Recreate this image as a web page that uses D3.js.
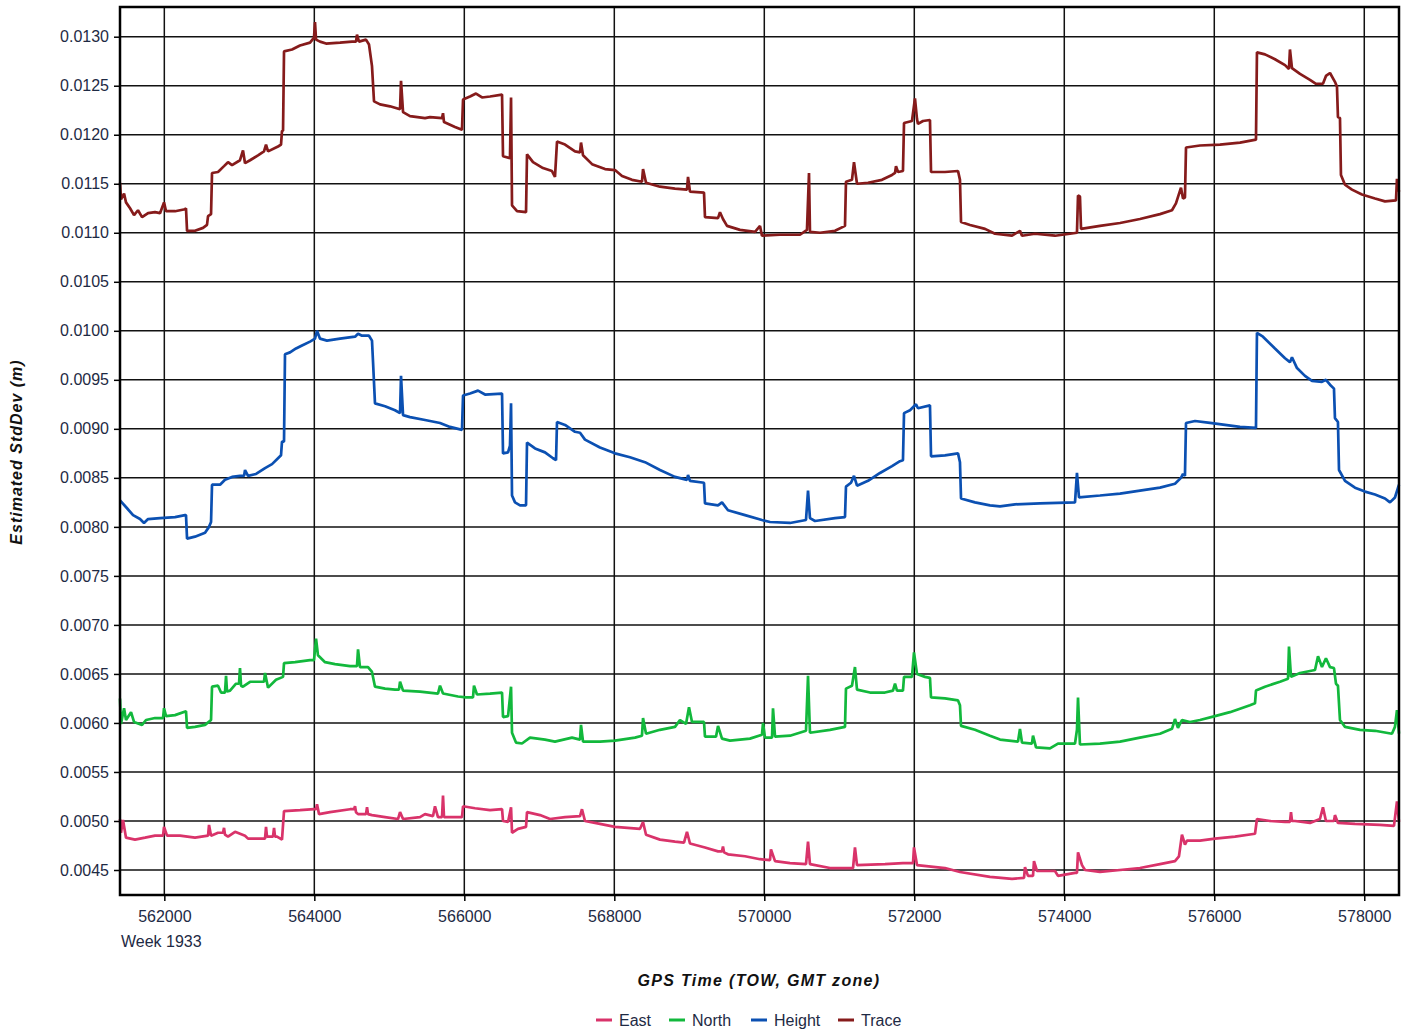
<!DOCTYPE html>
<html>
<head>
<meta charset="utf-8">
<script src="https://cdn.jsdelivr.net/npm/d3@7"></script>
<style>
  body { margin: 0; background: #fff; }
  svg { display: block; font-family: "Liberation Sans", Arial, sans-serif; }
</style>
</head>
<body>
<div class="canvas"></div>
<script>
// Series names and colours
const seriesNames = ['East', 'North', 'Height', 'Trace'];
const seriesColors = ['#d9336a', '#12b83c', '#0b50b2', '#861b1b'];

// Tick values
const xTicks = [562000, 564000, 566000, 568000, 570000, 572000, 574000, 576000, 578000];
const yTicks = [0.0045, 0.0050, 0.0055, 0.0060, 0.0065, 0.0070, 0.0075, 0.0080, 0.0085,
    0.0090, 0.0095, 0.0100, 0.0105, 0.0110, 0.0115, 0.0120, 0.0125, 0.0130];

// [GPS time (s), std dev (m)]
const eastData = [
    [561409,0.00502],[561422,0.00488],[561449,0.00501],[561489,0.00483],[561609,0.00481],[561743,0.00483],
    [561876,0.00485],[561983,0.00485],[561996,0.00494],[562036,0.00485],[562209,0.00485],[562409,0.00483],[562583,0.00485],
    [562596,0.00496],[562623,0.00485],[562716,0.00488],[562783,0.00488],[562796,0.00493],[562809,0.00486],[562849,0.00484],[562943,0.00489],
    [563076,0.00485],[563116,0.00482],[563303,0.00482],[563343,0.00482],[563356,0.00494],[563369,0.00484],[563409,0.00484],
    [563449,0.00484],[563463,0.00493],[563476,0.00484],
    [563503,0.00484],[563569,0.00481],[563596,0.00510],[563809,0.00511],[563996,0.00512],[564023,0.00512],[564036,0.00517],
    [564063,0.00507],[564209,0.00509],[564476,0.00512],[564529,0.00512],[564543,0.00515],[564556,0.00509],[564583,0.00507],
    [564689,0.00507],[564703,0.00514],[564716,0.00507],
    [564769,0.00506],[564943,0.00504],[565116,0.00502],[565143,0.00509],[565183,0.00502],[565409,0.00504],
    [565476,0.00507],[565583,0.00505],[565609,0.00515],[565649,0.00504],[565703,0.00504],[565716,0.00526],[565729,0.00504],[565756,0.00504],
    [565969,0.00504],[565983,0.00515],[566143,0.00513],[566343,0.00511],[566503,0.00512],[566516,0.00500],
    [566583,0.00499],[566623,0.00514],[566636,0.00488],[566716,0.00492],[566823,0.00494],[566836,0.00509],
    [567009,0.00506],[567143,0.00502],[567343,0.00504],[567543,0.00505],[567569,0.00512],[567609,0.00500],
    [567809,0.00497],[568009,0.00494],[568343,0.00492],[568383,0.00499],[568423,0.00486],[568609,0.00481],
    [568809,0.00479],[568929,0.00478],[568969,0.00489],[569009,0.00477],[569209,0.00473],[569383,0.00469],
    [569436,0.00469],[569449,0.00474],[569463,0.00468],[569516,0.00466],[569743,0.00464],[569943,0.00461],[570076,0.00460],[570089,0.00471],
    [570143,0.00459],[570343,0.00457],[570556,0.00456],[570583,0.00479],[570609,0.00456],[570876,0.00452],
    [571183,0.00452],[571209,0.00473],[571236,0.00455],[571609,0.00456],[571849,0.00457],[571983,0.00457],[571996,0.00473],
    [572036,0.00455],[572409,0.00452],[572609,0.00448],[573009,0.00443],[573303,0.00441],[573463,0.00442],[573476,0.00453],
    [573516,0.00444],[573583,0.00444],[573596,0.00459],[573636,0.00449],[573876,0.00449],[573916,0.00444],[574143,0.00447],
    [574169,0.00447],[574183,0.00468],[574236,0.00455],[574276,0.00450],[574476,0.00448],[574743,0.00450],[575009,0.00452],
    [575276,0.00456],[575476,0.00459],[575529,0.00464],[575569,0.00486],[575609,0.00476],[575636,0.00480],
    [575809,0.00480],[576009,0.00482],[576276,0.00484],[576543,0.00487],[576569,0.00502],[576743,0.00500],
    [576943,0.00499],[577009,0.00499],[577023,0.00509],[577036,0.00500],[577076,0.00500],[577276,0.00498],[577409,0.00502],[577449,0.00514],
    [577489,0.00500],[577596,0.00500],[577609,0.00506],[577649,0.00498],[577876,0.00497],[578209,0.00496],[578396,0.00495],
    [578436,0.00520],[578463,0.00499]
];

const northData = [
    [561409,0.00625],[561422,0.00599],[561463,0.00615],[561489,0.00603],[561556,0.00611],[561596,0.00601],
    [561703,0.00598],[561756,0.00603],[561876,0.00605],[561983,0.00605],[561996,0.00615],[562023,0.00607],[562143,0.00608],
    [562289,0.00612],[562303,0.00595],[562409,0.00596],[562543,0.00598],[562623,0.00603],[562636,0.00637],
    [562716,0.00638],[562756,0.00631],[562809,0.00631],[562823,0.00648],[562836,0.00632],[562876,0.00633],[562956,0.00640],
    [562996,0.00640],[563009,0.00656],[563023,0.00638],
    [563049,0.00637],[563143,0.00642],[563249,0.00642],[563329,0.00642],[563343,0.00651],[563383,0.00636],[563489,0.00644],
    [563583,0.00647],[563596,0.00661],[563743,0.00662],[563943,0.00664],[563996,0.00664],[564023,0.00686],
    [564049,0.00669],[564143,0.00662],[564276,0.00660],[564476,0.00658],[564569,0.00658],[564583,0.00675],
    [564609,0.00657],[564716,0.00657],[564769,0.00652],[564809,0.00637],[564943,0.00635],[565076,0.00634],
    [565129,0.00634],[565143,0.00642],[565183,0.00633],[565409,0.00632],[565649,0.00630],[565676,0.00638],[565716,0.00630],
    [565916,0.00627],[566023,0.00626],[566116,0.00626],[566129,0.00638],[566169,0.00629],[566343,0.00630],[566503,0.00631],
    [566516,0.00606],[566583,0.00607],[566623,0.00637],[566636,0.00590],[566689,0.00580],[566769,0.00579],
    [566876,0.00585],[567076,0.00583],[567209,0.00581],[567436,0.00585],[567543,0.00583],[567556,0.00598],[567583,0.00581],
    [567809,0.00581],[568009,0.00582],[568276,0.00585],[568369,0.00587],[568383,0.00605],[568423,0.00589],[568609,0.00593],
    [568809,0.00596],[568876,0.00603],[568956,0.00599],[568996,0.00616],[569036,0.00601],[569196,0.00601],
    [569209,0.00586],[569356,0.00586],[569383,0.00597],[569436,0.00584],[569543,0.00582],[569809,0.00584],
    [569969,0.00588],[569983,0.00600],[570009,0.00585],[570103,0.00585],[570116,0.00615],[570143,0.00586],
    [570343,0.00587],[570556,0.00592],[570583,0.00648],[570609,0.00590],[570876,0.00593],[571076,0.00596],
    [571089,0.00635],[571169,0.00638],[571209,0.00657],[571236,0.00634],[571409,0.00631],[571609,0.00631],
    [571716,0.00633],[571743,0.00640],[571769,0.00633],[571849,0.00633],[571863,0.00647],[571969,0.00647],
    [571996,0.00672],[572036,0.00650],[572143,0.00647],[572209,0.00646],[572223,0.00626],[572409,0.00625],
    [572583,0.00623],[572609,0.00618],[572623,0.00597],[572809,0.00593],[573009,0.00587],[573143,0.00583],
    [573383,0.00581],[573409,0.00594],[573436,0.00580],[573569,0.00579],[573583,0.00587],[573623,0.00575],
    [573809,0.00574],[573916,0.00579],[574143,0.00579],[574169,0.00593],[574183,0.00626],[574209,0.00578],
    [574476,0.00579],[574743,0.00581],[575009,0.00585],[575276,0.00589],[575436,0.00594],[575476,0.00604],
    [575516,0.00595],[575569,0.00603],[575676,0.00601],[575809,0.00603],[576009,0.00607],[576209,0.00611],
    [576476,0.00618],[576543,0.00620],[576556,0.00633],[576676,0.00637],[576876,0.00642],[576983,0.00645],
    [576996,0.00678],[577023,0.00647],[577143,0.00651],[577343,0.00654],[577383,0.00668],[577436,0.00657],
    [577489,0.00666],[577543,0.00657],[577596,0.00656],[577623,0.00640],[577649,0.00638],[577676,0.00603],
    [577743,0.00596],[577943,0.00593],[578143,0.00592],[578369,0.00589],[578409,0.00596],[578436,0.00613],
    [578463,0.00589]
];

const heightData = [
    [561409,0.00827],[561503,0.00819],[561583,0.00812],[561676,0.00808],[561729,0.00804],[561783,0.00808],
    [561943,0.00809],[562143,0.00810],[562276,0.00812],[562289,0.00812],[562303,0.00788],[562409,0.00790],
    [562543,0.00794],[562596,0.00800],[562623,0.00805],[562636,0.00843],[562743,0.00843],[562809,0.00848],
    [562903,0.00851],[563009,0.00852],[563063,0.00852],[563076,0.00858],[563116,0.00852],[563223,0.00854],[563343,0.00860],
    [563436,0.00864],[563516,0.00870],[563556,0.00873],[563569,0.00887],[563596,0.00887],[563609,0.00976],
    [563676,0.00978],[563756,0.00982],[563836,0.00985],[563943,0.00989],[564009,0.00992],[564036,0.01000],
    [564076,0.00992],[564169,0.00990],[564343,0.00992],[564543,0.00994],[564583,0.00997],[564636,0.00995],
    [564729,0.00995],[564769,0.00990],[564783,0.00968],[564809,0.00926],[564943,0.00923],[565076,0.00919],
    [565143,0.00916],[565156,0.00954],[565183,0.00914],[565276,0.00912],[565476,0.00909],[565676,0.00906],
    [565809,0.00902],[565969,0.00899],[565983,0.00934],[566076,0.00936],[566183,0.00939],[566276,0.00935],
    [566503,0.00936],[566516,0.00875],[566583,0.00876],[566609,0.00883],[566623,0.00926],[566636,0.00832],
    [566676,0.00825],[566743,0.00822],[566823,0.00822],[566836,0.00886],[566943,0.00880],[567076,0.00876],
    [567183,0.00870],[567223,0.00868],[567236,0.00907],[567343,0.00904],[567476,0.00897],[567543,0.00896],
    [567609,0.00889],[567809,0.00881],[568009,0.00875],[568209,0.00871],[568409,0.00866],[568609,0.00858],
    [568809,0.00851],[568969,0.00848],[568983,0.00853],[569009,0.00847],[569196,0.00845],[569209,0.00824],[569383,0.00822],
    [569436,0.00825],[569516,0.00817],[569743,0.00812],[569969,0.00807],[570076,0.00805],[570343,0.00804],
    [570556,0.00807],[570583,0.00837],[570609,0.00809],[570676,0.00806],[570943,0.00809],[571076,0.00810],
    [571089,0.00841],[571156,0.00845],[571196,0.00852],[571236,0.00842],[571383,0.00847],[571543,0.00855],
    [571703,0.00862],[571809,0.00867],[571849,0.00868],[571863,0.00916],[571943,0.00919],[572023,0.00925],
    [572049,0.00921],[572209,0.00924],[572223,0.00872],[572409,0.00873],[572583,0.00875],[572609,0.00866],
    [572623,0.00829],[572809,0.00825],[573009,0.00822],[573143,0.00821],[573343,0.00823],[573676,0.00824],
    [574143,0.00825],[574169,0.00855],[574196,0.00830],[574476,0.00832],[574743,0.00834],[575009,0.00837],
    [575276,0.00840],[575476,0.00844],[575556,0.00850],[575583,0.00854],[575609,0.00852],[575623,0.00906],
    [575743,0.00908],[575943,0.00906],[576143,0.00904],[576343,0.00902],[576556,0.00901],[576569,0.00998],
    [576649,0.00994],[576809,0.00982],[576943,0.00972],[577009,0.00968],[577036,0.00973],[577103,0.00962],
    [577209,0.00954],[577303,0.00949],[577436,0.00948],[577489,0.00950],[577543,0.00945],[577596,0.00941],
    [577609,0.00911],[577649,0.00907],[577663,0.00858],[577743,0.00847],[577876,0.00840],[578009,0.00836],
    [578143,0.00833],[578276,0.00829],[578343,0.00825],[578409,0.00830],[578463,0.00843]
];

const traceData = [
    [561409,0.01151],[561422,0.01134],[561463,0.01140],[561489,0.01131],[561543,0.01125],[561596,0.01118],
    [561649,0.01123],[561703,0.01116],[561783,0.01120],[561876,0.01121],[561943,0.01120],[561996,0.01131],
    [562023,0.01122],[562143,0.01122],[562276,0.01124],[562289,0.01125],[562303,0.01102],[562409,0.01102],
    [562516,0.01105],[562569,0.01108],[562583,0.01117],[562623,0.01119],[562636,0.01161],[562716,0.01162],
    [562796,0.01168],[562849,0.01172],[562903,0.01169],[563009,0.01174],[563049,0.01184],[563076,0.01171],
    [563143,0.01174],[563249,0.01179],[563329,0.01183],[563356,0.01190],[563383,0.01183],[563516,0.01188],
    [563556,0.01190],[563569,0.01204],[563583,0.01204],[563596,0.01285],[563703,0.01287],[563809,0.01291],
    [563943,0.01294],[563996,0.01299],[564009,0.01315],[564023,0.01297],[564076,0.01295],[564156,0.01293],
    [564343,0.01294],[564503,0.01295],[564556,0.01295],[564569,0.01302],[564596,0.01295],[564689,0.01297],[564729,0.01292],
    [564769,0.01270],[564796,0.01234],[564876,0.01231],[565009,0.01229],[565143,0.01226],[565156,0.01255],
    [565183,0.01223],[565276,0.01219],[565476,0.01217],[565543,0.01218],[565703,0.01217],[565716,0.01222],[565729,0.01213],
    [565876,0.01208],[565969,0.01205],[565983,0.01236],[566076,0.01239],[566156,0.01242],[566236,0.01238],
    [566343,0.01239],[566503,0.01241],[566516,0.01178],[566609,0.01176],[566623,0.01238],[566636,0.01128],
    [566703,0.01122],[566823,0.01121],[566836,0.01180],[566916,0.01172],[567049,0.01166],[567169,0.01163],
    [567209,0.01157],[567236,0.01193],[567343,0.01190],[567476,0.01183],[567543,0.01182],[567556,0.01192],[567583,0.01179],
    [567703,0.01170],[567876,0.01165],[568009,0.01164],[568103,0.01158],[568236,0.01154],[568369,0.01152],
    [568383,0.01165],[568423,0.01151],[568609,0.01147],[568809,0.01145],[568969,0.01144],[568983,0.01157],
    [569009,0.01142],[569196,0.01141],[569209,0.01116],[569383,0.01115],[569409,0.01121],[569449,0.01114],
    [569503,0.01107],[569676,0.01103],[569876,0.01101],[569943,0.01107],[569969,0.01097],[570209,0.01098],
    [570476,0.01098],[570569,0.01103],[570596,0.01161],[570609,0.01101],[570743,0.01100],[570943,0.01102],
    [571076,0.01107],[571089,0.01152],[571169,0.01154],[571196,0.01172],[571236,0.01150],[571383,0.01151],
    [571569,0.01154],[571703,0.01159],[571743,0.01161],[571756,0.01168],[571783,0.01162],[571849,0.01163],
    [571863,0.01212],[571969,0.01214],[572009,0.01237],[572036,0.01216],[572049,0.01211],[572116,0.01214],
    [572209,0.01215],[572223,0.01162],[572409,0.01162],[572583,0.01163],[572609,0.01154],[572623,0.01111],
    [572743,0.01108],[572943,0.01104],[573076,0.01099],[573303,0.01097],[573409,0.01102],[573436,0.01097],
    [573609,0.01099],[573876,0.01097],[574076,0.01099],[574169,0.01100],[574183,0.01138],[574209,0.01137],
    [574223,0.01104],[574476,0.01107],[574743,0.01110],[575009,0.01114],[575276,0.01119],[575436,0.01123],
    [575489,0.01130],[575556,0.01146],[575583,0.01135],[575609,0.01136],[575623,0.01187],[575809,0.01189],
    [576076,0.01190],[576343,0.01192],[576556,0.01195],[576569,0.01284],[576676,0.01282],[576809,0.01277],
    [576943,0.01271],[576996,0.01267],[577009,0.01287],[577036,0.01268],[577143,0.01262],[577276,0.01256],
    [577356,0.01252],[577449,0.01252],[577489,0.01260],[577543,0.01263],[577609,0.01254],[577636,0.01249],
    [577649,0.01218],[577676,0.01217],[577689,0.01159],[577743,0.01149],[577836,0.01144],[577969,0.01139],
    [578143,0.01135],[578276,0.01132],[578423,0.01133],[578436,0.01155],[578463,0.01142]
];

const seriesData = [eastData, northData, heightData, traceData];

const WIDTH = 1409;
const HEIGHT = 1032;
const margin = { top: 7, right: 10, bottom: 137, left: 120 };
const innerW = WIDTH - margin.left - margin.right;
const innerH = HEIGHT - margin.top - margin.bottom;

const svg = d3.select('.canvas')
    .append('svg')
    .attr('width', WIDTH)
    .attr('height', HEIGHT);

const x = d3.scaleLinear()
    .domain([561409, 578463])
    .range([0, innerW]);

const y = d3.scaleLinear()
    .domain([0.004245, 0.013303])
    .range([innerH, 0]);

const plot = svg.append('g')
    .attr('transform', `translate(${margin.left}, ${margin.top})`);

// grid lines
plot.append('g')
    .selectAll('line.vgrid')
    .data(xTicks)
    .enter()
    .append('line')
    .attr('x1', d => x(d)).attr('x2', d => x(d))
    .attr('y1', 0).attr('y2', innerH)
    .attr('stroke', '#111')
    .attr('stroke-width', 1.5);

plot.append('g')
    .selectAll('line.hgrid')
    .data(yTicks)
    .enter()
    .append('line')
    .attr('x1', 0).attr('x2', innerW)
    .attr('y1', d => y(d)).attr('y2', d => y(d))
    .attr('stroke', '#111')
    .attr('stroke-width', 1.5);

// series lines
const line = d3.line()
    .x(d => x(d[0]))
    .y(d => y(d[1]));

plot.append('g')
    .selectAll('path')
    .data(seriesData)
    .enter()
    .append('path')
    .attr('d', line)
    .attr('fill', 'none')
    .attr('stroke', (d, i) => seriesColors[i])
    .attr('stroke-width', 2.7)
    .attr('stroke-linejoin', 'bevel');

// frame
plot.append('rect')
    .attr('x', 0).attr('y', 0)
    .attr('width', innerW).attr('height', innerH)
    .attr('fill', 'none')
    .attr('stroke', '#000')
    .attr('stroke-width', 2.5);

// axes
const yAxis = plot.append('g')
    .call(d3.axisLeft(y).tickValues(yTicks).tickSize(6).tickPadding(5).tickFormat(d3.format('.4f')));
yAxis.select('.domain').remove();
yAxis.selectAll('line').attr('stroke', '#000').attr('stroke-width', 1.5);
yAxis.selectAll('text')
    .attr('font-size', 16)
    .attr('fill', '#1e2a44')
    .attr('font-family', '"Liberation Sans", Arial, sans-serif');

const xAxis = plot.append('g')
    .attr('transform', `translate(0, ${innerH})`)
    .call(d3.axisBottom(x).tickValues(xTicks).tickSize(6).tickPadding(10).tickFormat(d3.format('d')));
xAxis.select('.domain').remove();
xAxis.selectAll('line').attr('stroke', '#000').attr('stroke-width', 1.5);
xAxis.selectAll('text')
    .attr('font-size', 16)
    .attr('fill', '#1e2a44')
    .attr('font-family', '"Liberation Sans", Arial, sans-serif');

svg.append('text')
    .attr('x', 121)
    .attr('y', 947)
    .attr('font-size', 16)
    .attr('fill', '#1e2a44')
    .text('Week 1933');

// axis titles
svg.append('text')
    .attr('x', 759)
    .attr('y', 986)
    .attr('text-anchor', 'middle')
    .attr('font-size', 16)
    .attr('font-weight', 'bold')
    .attr('font-style', 'italic')
    .attr('letter-spacing', 1.3)
    .attr('fill', '#111')
    .text('GPS Time (TOW, GMT zone)');

svg.append('text')
    .attr('transform', 'translate(22, 452) rotate(-90)')
    .attr('text-anchor', 'middle')
    .attr('font-size', 16)
    .attr('font-weight', 'bold')
    .attr('font-style', 'italic')
    .attr('letter-spacing', 1)
    .attr('fill', '#111')
    .text('Estimated StdDev (m)');

// legend
const legendX = [596, 669, 751, 838];
const legend = svg.append('g')
    .selectAll('g')
    .data(seriesNames)
    .enter()
    .append('g')
    .attr('transform', (d, i) => `translate(${legendX[i]}, 1020)`);

legend.append('line')
    .attr('x1', 0).attr('x2', 16)
    .attr('y1', 0).attr('y2', 0)
    .attr('stroke', (d, i) => seriesColors[i])
    .attr('stroke-width', 3);

legend.append('text')
    .attr('x', 23)
    .attr('y', 6)
    .attr('font-size', 16)
    .attr('fill', '#1e2a44')
    .text(d => d);
</script>
</body>
</html>
